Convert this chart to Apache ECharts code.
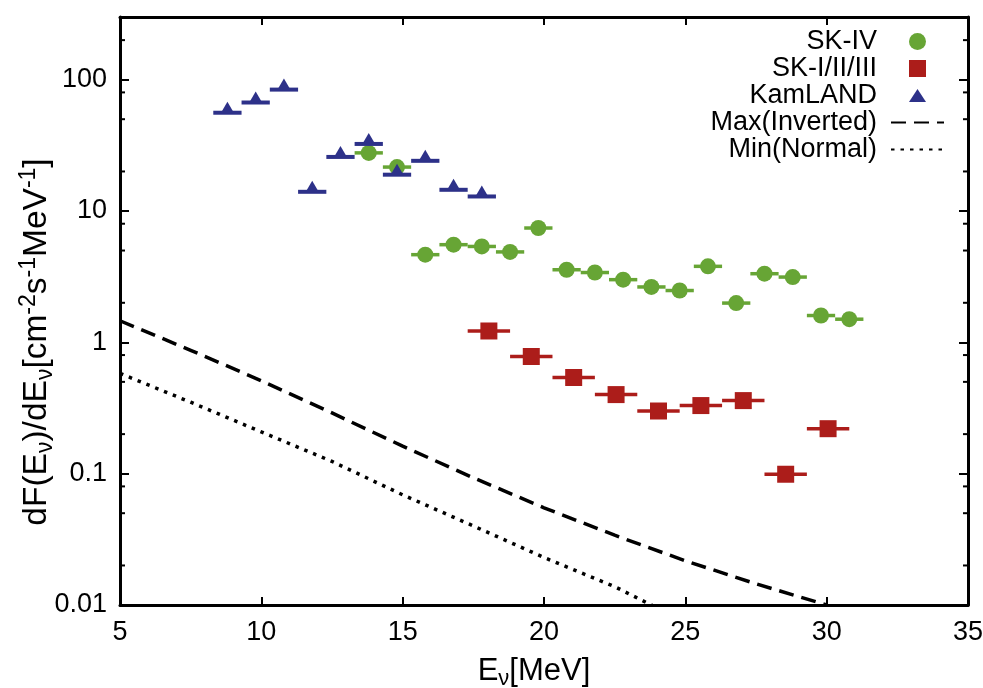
<!DOCTYPE html>
<html>
<head>
<meta charset="utf-8">
<script src="https://cdn.jsdelivr.net/npm/echarts@6/dist/echarts.min.js"></script>
<style>
html,body{margin:0;padding:0;background:#fff;}
#chart{width:983px;height:688px;}
</style>
</head>
<body>
<div id="chart"></div>
<script>
// ---- data ----
const skIVEnergy = [13.8, 14.8, 15.8, 16.8, 17.8, 18.8, 19.8, 20.8, 21.8, 22.8, 23.8, 24.8, 25.8, 26.8, 27.8, 28.8, 29.8, 30.8];
const skIVFlux   = [27.7, 21.6, 4.65, 5.54, 5.37, 4.88, 7.42, 3.57, 3.40, 3.00, 2.64, 2.48, 3.79, 1.99, 3.33, 3.14, 1.60, 1.50];
const skIVHalfBin = 0.5;

const skOldEnergy = [18.05, 19.55, 21.05, 22.55, 24.05, 25.55, 27.05, 28.55, 30.05];
const skOldFlux   = [1.22, 0.78, 0.54, 0.40, 0.30, 0.33, 0.36, 0.099, 0.22];
const skOldHalfBin = 0.75;

const kamEnergy = [8.8, 9.8, 10.8, 11.8, 12.8, 13.8, 14.8, 15.8, 16.8, 17.8];
const kamFlux   = [56, 67, 84, 14.0, 25.8, 32.4, 18.9, 24.1, 14.5, 12.9];
const kamHalfBin = 0.5;

const maxInvEnergy = [5, 7.5, 10, 12.5, 15, 17.5, 20, 22.5, 25, 27.5, 30];
const maxInvFlux   = [1.46, 0.87, 0.51, 0.29, 0.162, 0.093, 0.055, 0.034, 0.0217, 0.0145, 0.0100];

const minNormEnergy = [5, 7.5, 10, 12.5, 15, 17.5, 20, 22.5, 24];
const minNormFlux   = [0.58, 0.35, 0.208, 0.124, 0.069, 0.040, 0.023, 0.0138, 0.0095];

const xMin = 5, xMax = 35, xStep = 5;
const yMin = 0.01, yMax = 300;
const yTickValues = [0.01, 0.1, 1, 10, 100];
const yTickLabels = ['0.01', '0.1', '1', '10', '100'];
const yMinorTicks = [0.02, 0.05, 0.08, 0.2, 0.5, 0.8, 2, 5, 8, 20, 50, 80, 200];

const seriesNames = ['SK-IV', 'SK-I/II/III', 'KamLAND', 'Max(Inverted)', 'Min(Normal)'];

// ---- styles ----
const FONT = 'Liberation Sans, Arial, sans-serif';
const GREEN = '#67a535', RED = '#ac1d1a', BLUE = '#2d3189';
// legend icons padded to the full 53x17 icon box so they keep their aspect
const ICON_SQUARE = 'path://M0,0L0,0M53,17L53,17M18,0L35,0L35,17L18,17Z';
const ICON_TRIANGLE = 'path://M0,0L0,0M53,17L53,17M18,15L26.5,2L35,15Z';

function zip(a, b) { return a.map((v, i) => [v, b[i]]); }

function errorBars(halfBin, color, width) {
  return function (params, api) {
    const x = api.value(0), y = api.value(1);
    const a = api.coord([x - halfBin, y]);
    const b = api.coord([x + halfBin, y]);
    return { type: 'line', shape: { x1: a[0], y1: a[1], x2: b[0], y2: b[1] },
             style: { stroke: color, lineWidth: width } };
  };
}

function minorTicks(params, api) {
  const v = api.value(1);
  const l = api.coord([xMin, v]);
  const r = api.coord([xMax, v]);
  return { type: 'group', children: [
    { type: 'line', shape: { x1: l[0], y1: l[1], x2: l[0] + 5, y2: l[1] }, style: { stroke: '#000', lineWidth: 2 } },
    { type: 'line', shape: { x1: r[0], y1: r[1], x2: r[0] - 5, y2: r[1] }, style: { stroke: '#000', lineWidth: 2 } }
  ]};
}

function yLabel(v) {
  for (let i = 0; i < yTickValues.length; i++) {
    if (Math.abs(Math.log10(v) - Math.log10(yTickValues[i])) < 1e-6) return yTickLabels[i];
  }
  return '';
}

const richName = {
  sub: { fontSize: 22, lineHeight: 22, verticalAlign: 'bottom', fontFamily: FONT, color: '#000' },
  sup: { fontSize: 22, lineHeight: 22, verticalAlign: 'top', fontFamily: FONT, color: '#000' }
};
const richNameY = {
  sub: { fontSize: 23, lineHeight: 23, verticalAlign: 'bottom', fontFamily: FONT, color: '#000' },
  sup: { fontSize: 23, lineHeight: 23, verticalAlign: 'top', fontFamily: FONT, color: '#000' }
};

const axisLineStyle = { color: '#000', width: 3 };
const hiddenSymbol = { opacity: 0 };

const chart = echarts.init(document.getElementById('chart'), null, { renderer: 'canvas' });
chart.setOption({
  backgroundColor: '#fff',
  animation: false,
  grid: { left: 120, right: 15, top: 17, bottom: 83, containLabel: false, outerBoundsMode: 'none' },
  legend: {
    data: [
      { name: seriesNames[0], icon: 'circle' },
      { name: seriesNames[1], icon: ICON_SQUARE },
      { name: seriesNames[2], icon: ICON_TRIANGLE },
      { name: seriesNames[3], itemStyle: hiddenSymbol },
      { name: seriesNames[4], itemStyle: hiddenSymbol }
    ],
    orient: 'vertical',
    right: 38, top: 28,
    padding: 0,
    align: 'right',
    itemWidth: 53, itemHeight: 17, itemGap: 0,
    textStyle: { fontFamily: FONT, fontSize: 27, lineHeight: 26.3, color: '#000', padding: [0, 9, 0, 0] },
    selectedMode: false
  },
  xAxis: [{
    type: 'value', min: xMin, max: xMax, interval: xStep, position: 'bottom',
    name: 'E{sub|ν}[MeV]', nameLocation: 'middle', nameGap: 47, nameMoveOverlap: false,
    nameTextStyle: { fontFamily: FONT, fontSize: 31, lineHeight: 38, color: '#000', rich: richName, padding: [0, 20, 0, 0] },
    axisLine: { show: true, onZero: false, lineStyle: axisLineStyle },
    axisTick: { show: true, inside: true, length: 8, lineStyle: { color: '#000', width: 2 } },
    axisLabel: { show: true, margin: 14, fontFamily: FONT, fontSize: 27, color: '#000' },
    splitLine: { show: false }
  }, {
    type: 'value', min: xMin, max: xMax, interval: xStep, position: 'top',
    axisLine: { show: true, onZero: false, lineStyle: axisLineStyle },
    axisTick: { show: true, inside: true, length: 8, lineStyle: { color: '#000', width: 2 } },
    axisLabel: { show: false }, splitLine: { show: false }
  }],
  yAxis: [{
    type: 'log', logBase: 10, min: yMin, max: yMax, position: 'left',
    name: 'dF(E{sub|ν})/dE{sub|ν}[cm{sup|-2}s{sup|-1}MeV{sup|-1}]',
    nameLocation: 'middle', nameGap: 63, nameMoveOverlap: false,
    nameTextStyle: { fontFamily: FONT, fontSize: 33.5, lineHeight: 40, color: '#000', rich: richNameY, padding: [0, 62, 0, 0] },
    axisLine: { show: true, onZero: false, lineStyle: axisLineStyle },
    axisTick: { show: true, inside: true, length: 9, lineStyle: { color: '#000', width: 2 } },
    axisLabel: { show: true, margin: 13, fontFamily: FONT, fontSize: 27, color: '#000', formatter: yLabel, showMaxLabel: false },
    splitLine: { show: false }, minorTick: { show: false }
  }, {
    type: 'log', logBase: 10, min: yMin, max: yMax, position: 'right',
    axisLine: { show: true, onZero: false, lineStyle: axisLineStyle },
    axisTick: { show: true, inside: true, length: 9, lineStyle: { color: '#000', width: 2 } },
    axisLabel: { show: false }, splitLine: { show: false }
  }],
  series: [
    { type: 'custom', name: 'minorTicks', renderItem: minorTicks, clip: false, silent: true, z: 10,
      data: yMinorTicks.map(v => [xMin, v]) },
    { type: 'custom', name: 'skIVbars', renderItem: errorBars(skIVHalfBin, GREEN, 3.5), z: 2, silent: true,
      data: zip(skIVEnergy, skIVFlux) },
    { type: 'scatter', name: 'SK-IV', symbol: 'circle', symbolSize: 16, z: 3,
      itemStyle: { color: GREEN, opacity: 1 }, data: zip(skIVEnergy, skIVFlux) },
    { type: 'custom', name: 'skOldbars', renderItem: errorBars(skOldHalfBin, RED, 3.5), z: 4, silent: true,
      data: zip(skOldEnergy, skOldFlux) },
    { type: 'scatter', name: 'SK-I/II/III', symbol: 'rect', symbolSize: 17, z: 5,
      itemStyle: { color: RED, opacity: 1 }, data: zip(skOldEnergy, skOldFlux) },
    { type: 'custom', name: 'kamBars', renderItem: errorBars(kamHalfBin, BLUE, 4), z: 6, silent: true,
      data: zip(kamEnergy, kamFlux) },
    { type: 'scatter', name: 'KamLAND', symbol: 'triangle', symbolSize: [14, 12], symbolOffset: [0, -5], z: 7,
      itemStyle: { color: BLUE, opacity: 1 }, data: zip(kamEnergy, kamFlux) },
    { type: 'line', name: 'Max(Inverted)', symbol: 'none', showSymbol: false, z: 1,
      itemStyle: { color: '#000' },
      lineStyle: { color: '#000', width: 3.5, type: [15, 8] }, data: zip(maxInvEnergy, maxInvFlux) },
    { type: 'line', name: 'Min(Normal)', symbol: 'none', showSymbol: false, z: 1,
      itemStyle: { color: '#000' },
      lineStyle: { color: '#000', width: 3.5, type: [3.5, 6] }, data: zip(minNormEnergy, minNormFlux) }
  ]
});
</script>
</body>
</html>
